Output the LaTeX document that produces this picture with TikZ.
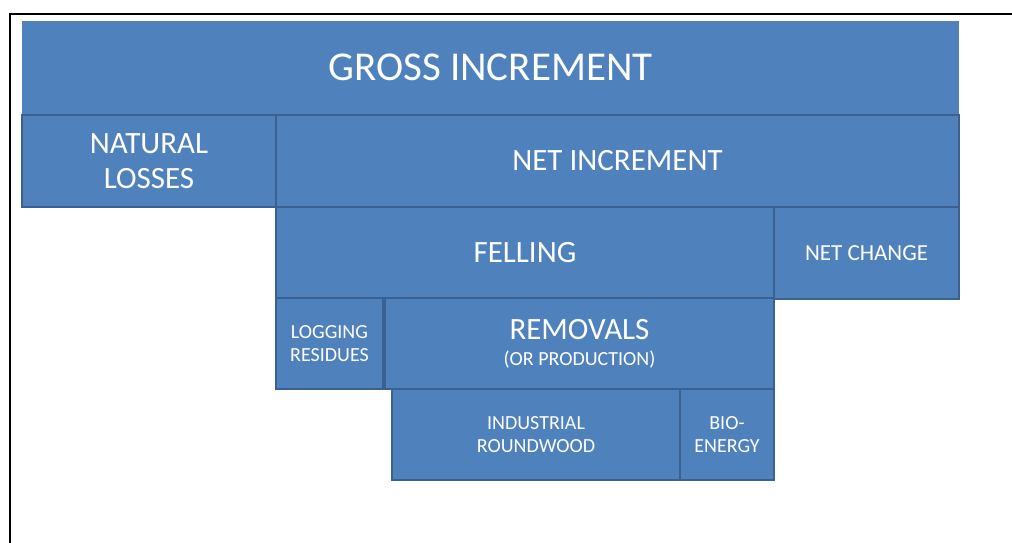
\documentclass[tikz,border=0pt]{standalone}
\usepackage{fontspec}
\setmainfont{Carlito}
\definecolor{boxfill}{HTML}{4F81BD}
\definecolor{boxline}{HTML}{3A6191}
\begin{document}
\begin{tikzpicture}[x=1pt,y=-1pt,
  blk/.style={rectangle, fill=boxfill, draw=boxline, line width=2pt, text=white, align=center, inner sep=0pt, anchor=north west},
  big/.style={font=\fontsize{41}{46}\selectfont},
  mid/.style={font=\fontsize{31}{35}\selectfont},
  sml/.style={font=\fontsize{20}{23}\selectfont}]
\useasboundingbox (0,0) rectangle (1012,543);
\draw[line width=1.5pt] (10,543) -- (10,14) -- (1012,14);
\node[blk, draw=none, big, minimum width=937pt, minimum height=93pt] (gross) at (21,20) {GROSS INCREMENT};
\node[blk, mid, minimum width=254pt, minimum height=92pt] (nat) at (21,114) {NATURAL\\LOSSES};
\node[blk, mid, minimum width=683pt, minimum height=92pt] (netinc) at (275,114) {NET INCREMENT};
\node[blk, mid, minimum width=498pt, minimum height=91pt] (fell) at (275,206) {FELLING};
\node[blk, font=\fontsize{23}{27}\selectfont, minimum width=185pt, minimum height=92pt] (netch) at (773,206) {NET CHANGE};
\node[blk, sml, minimum width=107pt, minimum height=91pt] (logres) at (275,297) {LOGGING\\RESIDUES};
\node[blk, font=\fontsize{20}{26}\selectfont, minimum width=389pt, minimum height=91pt] (remov) at (384,297) {{\fontsize{31}{31}\selectfont REMOVALS}\\(OR PRODUCTION)};
\node[blk, sml, minimum width=288pt, minimum height=91pt] (ind) at (391,388) {INDUSTRIAL\\ROUNDWOOD};
\node[blk, sml, minimum width=94pt, minimum height=91pt] (bio) at (679,388) {BIO-\\ENERGY};
\end{tikzpicture}
\end{document}
